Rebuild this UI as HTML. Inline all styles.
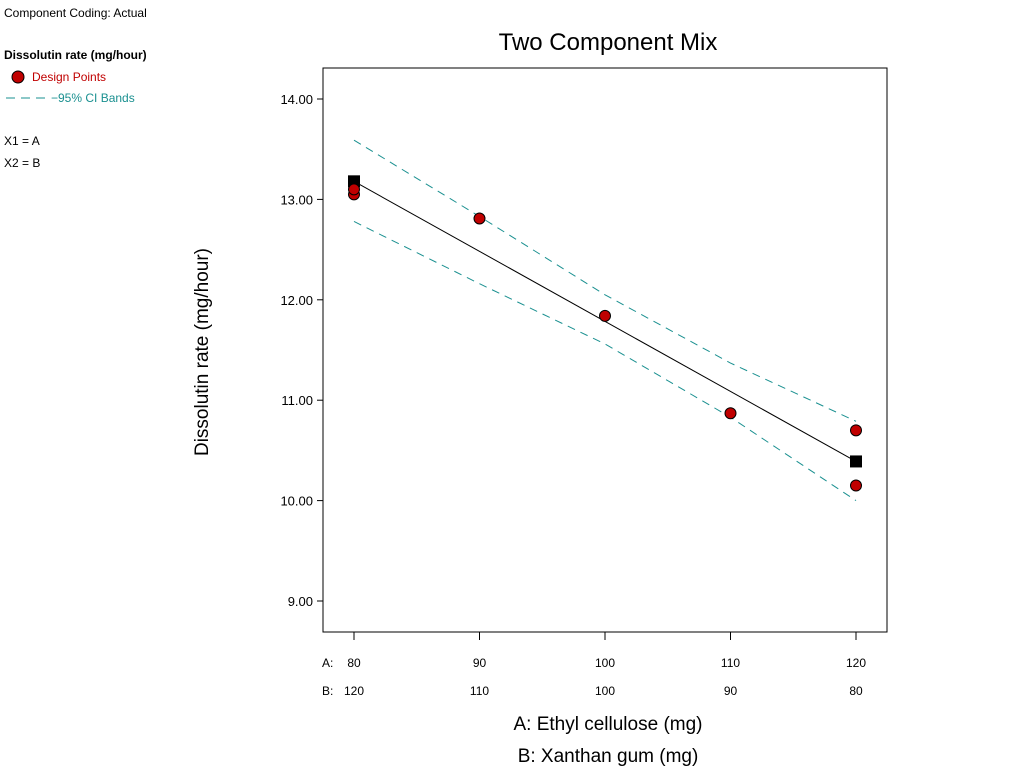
<!DOCTYPE html>
<html><head><meta charset="utf-8"><style>
body{margin:0;background:#fff;width:1024px;height:768px;overflow:hidden;font-family:"Liberation Sans",sans-serif}
</style></head><body>
<svg id="chart" width="1024" height="768" xmlns="http://www.w3.org/2000/svg" font-family="Liberation Sans, sans-serif">
<text x="4" y="17" font-size="12" fill="#000">Component Coding: Actual</text>
<text x="4" y="59" font-size="12" font-weight="bold" fill="#000">Dissolutin rate (mg/hour)</text>
<circle cx="18" cy="77" r="6" fill="#c00000" stroke="#000"/>
<text x="32" y="81" font-size="12" fill="#c00000">Design Points</text>
<line x1="6" y1="98" x2="46" y2="98" stroke="#1a9090" stroke-dasharray="9,6"/>
<text x="51" y="102" font-size="12" fill="#1a9090">−95% CI Bands</text>
<text x="4" y="145" font-size="12">X1 = A</text>
<text x="4" y="167" font-size="12">X2 = B</text>
<text x="608" y="50" font-size="24" text-anchor="middle">Two Component Mix</text>
<rect x="323" y="68" width="564" height="564" fill="none" stroke="#000"/>
<text transform="translate(208,352) rotate(-90)" font-size="19" text-anchor="middle">Dissolutin rate (mg/hour)</text>
<text x="608" y="730" font-size="19" text-anchor="middle">A: Ethyl cellulose (mg)</text>
<text x="608" y="762" font-size="19" text-anchor="middle">B: Xanthan gum (mg)</text>
<text x="322" y="667" font-size="12">A:</text>
<text x="322" y="695" font-size="12">B:</text>
<g id="g"></g>
</svg>
<script>
const aTicks=[80,90,100,110,120];
const bTicks=[120,110,100,90,80];
const yTicks=[9,10,11,12,13,14];
const ptA=[80,80,90,100,110,120,120];
const ptY=[13.05,13.10,12.81,11.84,10.87,10.70,10.15];
const fitA=[80,120];
const fitY=[13.18,10.39];
const ciA=[80,90,100,110,120];
const ciUpper=[13.59,12.83,12.05,11.37,10.79];
const ciLower=[12.78,12.16,11.56,10.83,10.00];
const X=a=>354+(a-80)*(856-354)/40;
const Y=v=>601-(v-9)*(601-99)/5;
const g=document.getElementById('g');const NS='http://www.w3.org/2000/svg';
function mk(t,at){const e=document.createElementNS(NS,t);for(const k in at)e.setAttribute(k,at[k]);g.appendChild(e);return e;}
yTicks.forEach(v=>{
 const l=mk('line',{x1:317,x2:323,y1:Y(v),y2:Y(v),stroke:'#000'});
 
 
 const t=mk('text',{x:313,y:Y(v)+5,'font-size':13,'text-anchor':'end'});t.textContent=v.toFixed(2);
 
 
});
aTicks.forEach((a,i)=>{
 const l=mk('line',{x1:X(a),x2:X(a),y1:632,y2:640,stroke:'#000'});
 
 
 const t=mk('text',{x:X(a),y:667,'font-size':12,'text-anchor':'middle'});t.textContent=a;
 
 
 const t2=mk('text',{x:X(a),y:695,'font-size':12,'text-anchor':'middle'});t2.textContent=bTicks[i];
 
 
});
const up=mk('polyline',{points:ciA.map((a,i)=>X(a)+','+Y(ciUpper[i])).join(' '),fill:'none',stroke:'#1a9090','stroke-dasharray':'8,6'});


const lo=mk('polyline',{points:ciA.map((a,i)=>X(a)+','+Y(ciLower[i])).join(' '),fill:'none',stroke:'#1a9090','stroke-dasharray':'8,6'});


const fl=mk('polyline',{points:fitA.map((a,i)=>X(a)+','+Y(fitY[i])).join(' '),fill:'none',stroke:'#000'});


fitA.forEach((a,i)=>{
 const r=mk('rect',{x:X(a)-6,y:Y(fitY[i])-6,width:12,height:12,fill:'#000'});
 
 
});
ptA.forEach((a,i)=>{
 const c=mk('circle',{cx:X(a),cy:Y(ptY[i]),r:5.5,fill:'#c00000',stroke:'#000'});
 
 
});
</script>
</body></html>
